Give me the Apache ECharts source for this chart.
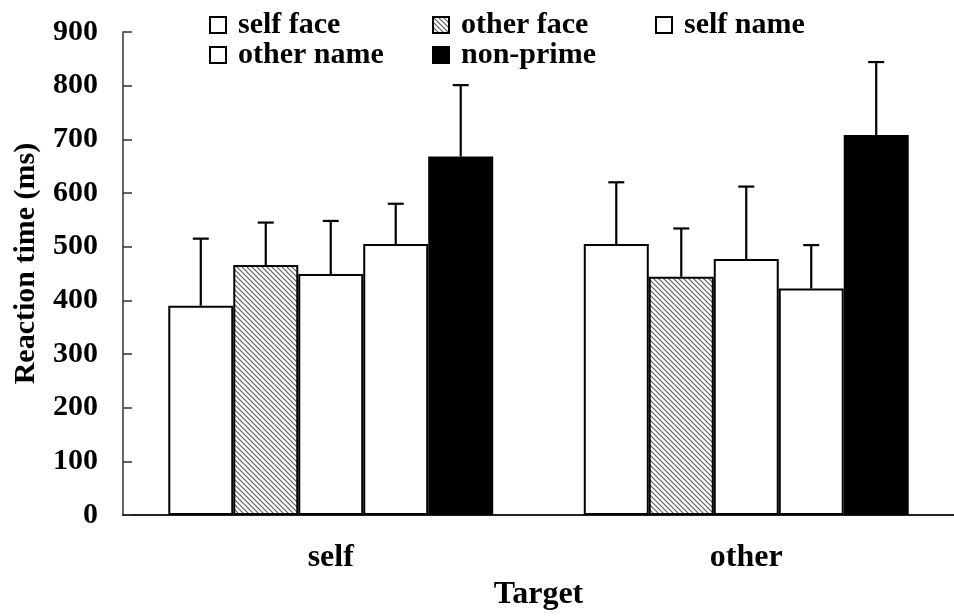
<!DOCTYPE html>
<html>
<head>
<meta charset="utf-8">
<script src="https://cdn.jsdelivr.net/npm/echarts@6/dist/echarts.min.js"></script>
<style>html,body{margin:0;padding:0;background:#fff;}#c{width:954px;height:616px;}</style>
</head>
<body>
<div id="c"></div>
<script>
// ---- data ----
const categories = ['self', 'other'];
const seriesNames = ['self face', 'other face', 'self name', 'other name', 'non-prime'];
const selfFace = [390, 505];
const otherFace = [466, 444];
const selfName = [449, 477];
const otherName = [505, 422];
const nonPrime = [668, 708];
const selfFaceErr = [125, 115];
const otherFaceErr = [79, 90];
const selfNameErr = [99, 135];
const otherNameErr = [75, 81];
const nonPrimeErr = [133, 136];
const yTicks = [0, 100, 200, 300, 400, 500, 600, 700, 800, 900];

const means = [selfFace, otherFace, selfName, otherName, nonPrime];
const errs = [selfFaceErr, otherFaceErr, selfNameErr, otherNameErr, nonPrimeErr];

// hatch pattern
function makeHatch() {
  const s = 5;
  const cv = document.createElement('canvas');
  cv.width = s; cv.height = s;
  const g = cv.getContext('2d');
  g.fillStyle = '#ffffff'; g.fillRect(0, 0, s, s);
  g.strokeStyle = '#5a5a5a'; g.lineWidth = 1.1;
  g.beginPath();
  g.moveTo(-1, -1); g.lineTo(s + 1, s + 1);
  g.moveTo(-1, s - 1); g.lineTo(1, s + 1);
  g.moveTo(s - 1, -1); g.lineTo(s + 1, 1);
  g.stroke();
  return cv;
}
const hatch = { image: makeHatch(), repeat: 'repeat' };
const fills = ['#ffffff', hatch, '#ffffff', '#ffffff', '#000000'];

const FONT = 'Liberation Serif';
const catGap = 0.218;

const chart = echarts.init(document.getElementById('c'), null, { renderer: 'canvas' });

const barSeries = seriesNames.map((n, k) => ({
  name: n,
  type: 'bar',
  data: means[k],
  barGap: '0%',
  barCategoryGap: (catGap * 100) + '%',
  itemStyle: { color: fills[k], borderColor: '#000', borderWidth: 2 },
  emphasis: { disabled: true },
  z: 2
}));

const errSeries = seriesNames.map((n, k) => ({
  type: 'custom',
  name: n + ' err',
  coordinateSystem: 'cartesian2d',
  data: categories.map((c, i) => [i, means[k][i], errs[k][i]]),
  encode: { x: 0, y: 1 },
  z: 3,
  silent: true,
  renderItem: function (params, api) {
    const cat = api.value(0), m = api.value(1), e = api.value(2);
    const p0 = api.coord([cat, m]);
    const p1 = api.coord([cat, m + e]);
    const band = api.size([1, 0])[0];
    const bw = band * (1 - catGap) / seriesNames.length;
    const x = p0[0] + (k - (seriesNames.length - 1) / 2) * bw;
    const st = { stroke: '#000', lineWidth: 2.2 };
    return {
      type: 'group',
      children: [
        { type: 'line', shape: { x1: x, y1: p0[1], x2: x, y2: p1[1] }, style: st },
        { type: 'line', shape: { x1: x - 8, y1: p1[1], x2: x + 8, y2: p1[1] }, style: st }
      ]
    };
  }
}));

const legendBase = {
  orient: 'vertical',
  top: 10,
  padding: 0,
  itemWidth: 16,
  itemHeight: 16,
  itemGap: 0,
  icon: 'rect',
  selectedMode: false,
  textStyle: { fontFamily: FONT, fontWeight: 'bold', fontSize: 30, color: '#000', lineHeight: 30, padding: [0, 0, 0, 7] }
};

chart.setOption({
  animation: false,
  backgroundColor: '#fff',
  legend: [
    Object.assign({}, legendBase, { left: 209, data: ['self face', 'other name'] }),
    Object.assign({}, legendBase, { left: 432, data: ['other face', 'non-prime'] }),
    Object.assign({}, legendBase, { left: 655, data: ['self name'] })
  ],
  grid: { left: 123, right: 0, top: 32, height: 500, containLabel: false },
  xAxis: {
    type: 'category',
    data: categories,
    name: 'Target',
    nameLocation: 'middle',
    nameGap: 50,
    nameTextStyle: { fontFamily: FONT, fontWeight: 'bold', fontSize: 32, color: '#000' },
    axisLine: { lineStyle: { color: '#222', width: 2 } },
    axisTick: { show: false },
    axisLabel: { margin: 27, fontFamily: FONT, fontWeight: 'bold', fontSize: 32, color: '#000' },
    splitLine: { show: false }
  },
  yAxis: {
    type: 'value',
    min: yTicks[0],
    max: yTicks[yTicks.length - 1],
    interval: yTicks[1] - yTicks[0],
    name: 'Reaction time (ms)',
    nameLocation: 'middle',
    nameGap: 82,
    nameTextStyle: { fontFamily: FONT, fontWeight: 'bold', fontSize: 30, color: '#000', padding: [0, 0, 0, 20] },
    axisLine: { show: true, lineStyle: { color: '#333', width: 1.5 } },
    axisTick: { show: true, inside: true, length: 9, lineStyle: { color: '#333', width: 1.5 } },
    axisLabel: { margin: 25, fontFamily: FONT, fontWeight: 'bold', fontSize: 30, color: '#000' },
    splitLine: { show: false }
  },
  series: barSeries.concat(errSeries)
});
</script>
</body>
</html>
